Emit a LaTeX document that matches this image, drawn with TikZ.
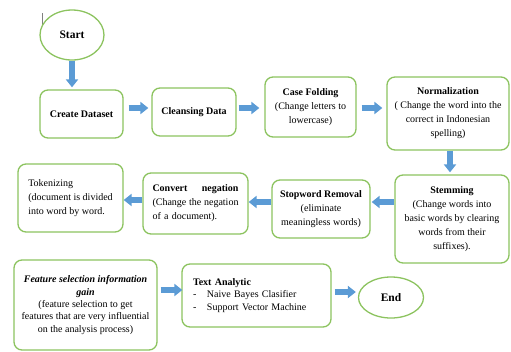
\documentclass[tikz,border=0pt]{standalone}
\usepackage{fontspec}
\setmainfont{Liberation Serif}
\usetikzlibrary{shapes.geometric,arrows.meta,calc}
\definecolor{boxgreen}{RGB}{140,195,95}
\definecolor{arrowblue}{RGB}{91,155,213}
\begin{document}
\begin{tikzpicture}[x=1pt,y=-1pt,
  every node/.style={font=\fontsize{10}{14}\selectfont},
  box/.style={draw=boxgreen,line width=1.3pt,rounded corners=8pt,inner sep=0pt,align=center},
  oval/.style={draw=boxgreen,line width=1.3pt,ellipse,inner sep=0pt},
  bigbold/.style={font=\fontsize{11.5}{13}\selectfont\bfseries},
  barrow/.style={draw=arrowblue,line width=5.5pt,-{Triangle[width=12pt,length=8pt,fill=arrowblue]}}]
\useasboundingbox (0,0) rectangle (511,351);

% cursor mark
\draw[gray,line width=0.8pt] (42,13) -- (42,25);

\node[oval,bigbold,minimum width=64pt,minimum height=50pt] (start) at (72,35) {Start};
\node[box,minimum width=83pt,minimum height=48pt,font=\fontsize{10}{14}\selectfont\bfseries] (create) at (81.5,114) {Create Dataset};
\node[box,minimum width=84pt,minimum height=48pt,font=\fontsize{10}{14}\selectfont\bfseries] (clean) at (194,112) {Cleansing Data};
\node[box,minimum width=91pt,minimum height=60pt] (case) at (310.5,107) {\textbf{Case Folding}\\(Change letters to\\lowercase)};
\node[box,minimum width=122pt,minimum height=73pt] (norm) at (448,113.5) {\textbf{Normalization}\\( Change the word into the\\correct in Indonesian\\spelling)};
\node[box,minimum width=114pt,minimum height=88pt] (stem) at (452,219) {\textbf{Stemming}\\(Change words into\\basic words by clearing\\words from their\\suffixes).};
\node[box,minimum width=98pt,minimum height=58pt] (stop) at (321,209) {\textbf{Stopword Removal}\\(eliminate\\meaningless words)};
\node[box,minimum width=105pt,minimum height=61pt,text width=86pt,align=left] (conv) at (195.5,203.5) {\textbf{Convert}\hfill\textbf{negation}\\(Change\hfill the\hfill negation\\of a document).};
\node[box,minimum width=105pt,minimum height=68pt,align=left] (tok) at (70.5,198) {Tokenizing\\(document is divided\\into word by word.};
\node[box,minimum width=143pt,minimum height=90pt,font=\fontsize{10}{12.4}\selectfont] (feat) at (85.5,305) {\textbf{\textit{Feature selection information}}\\\textbf{\textit{gain}}\\(feature selection to get\\features that are very influential\\on the analysis process)};
\node[box,minimum width=149pt,minimum height=63pt,text width=127pt,align=left,font=\fontsize{10}{12.8}\selectfont] (text) at (256.5,295.5) {\textbf{Text Analytic}\\\makebox[14pt][l]{-}Naive Bayes Clasifier\\\makebox[14pt][l]{-}Support Vector Machine};
\node[oval,bigbold,minimum width=65pt,minimum height=41pt] (end) at (391,297.5) {End};

% connectors
\draw[barrow] (start.south) -- ($(start.south |- create.north)+(0,-2)$);
\draw[barrow] ($(create.east |- 0,108)+(5,0)$) -- ($(clean.west |- 0,108)+(-3,0)$);
\draw[barrow] ($(clean.east |- 0,108)+(2,0)$) -- ($(case.west |- 0,108)+(-5,0)$);
\draw[barrow] ($(case.east |- 0,108)+(5,0)$) -- ($(norm.west |- 0,108)+(-4,0)$);
\draw[barrow] (norm.south -| 450,0) -- ($(stem.north -| 450,0)+(0,-2)$);
\draw[barrow] (stem.west |- 0,202) -- ($(stop.east |- 0,202)+(1,0)$);
\draw[barrow] (stop.west |- 0,202) -- (conv.east |- 0,202);
\draw[barrow] (conv.west |- 0,200) -- (tok.east |- 0,200);
\draw[barrow] ($(feat.east |- 0,290)+(3,0)$) -- ($(text.west |- 0,290)+(1,0)$);
\draw[barrow] ($(text.east |- 0,292)+(3,0)$) -- ($(end.west |- 0,292)+(-2,0)$);
\end{tikzpicture}
\end{document}
